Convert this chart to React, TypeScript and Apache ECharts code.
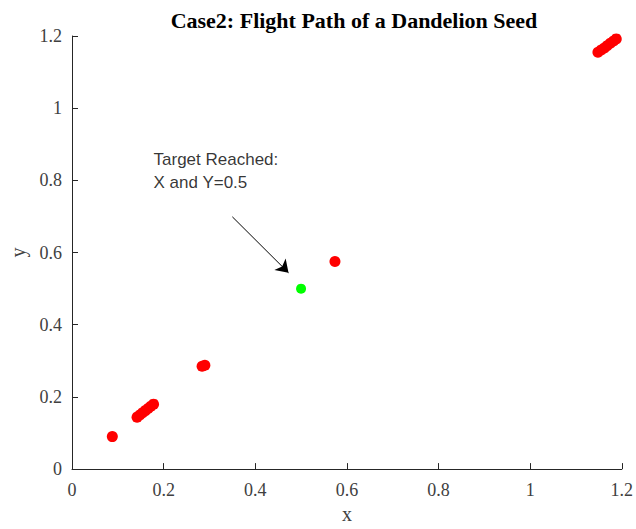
import React, { useEffect, useRef } from "react";
import * as echarts from "echarts";

const pathX = [0.088, 0.142, 0.148, 0.154, 0.16, 0.166, 0.172, 0.178, 0.284, 0.29, 0.574, 1.148, 1.155, 1.162, 1.168, 1.175, 1.182, 1.188];
const pathY = [0.09, 0.144, 0.15, 0.156, 0.162, 0.168, 0.174, 0.18, 0.285, 0.288, 0.575, 1.155, 1.161, 1.167, 1.173, 1.18, 1.186, 1.192];
const targetX = [0.5];
const targetY = [0.5];
const arrowStart = [0.35, 0.699];
const arrowEnd = [0.4726, 0.544];
const noteAt = [0.178, 0.827];
const noteText = "Target Reached:\nX and Y=0.5";
const xTicks = [0, 0.2, 0.4, 0.6, 0.8, 1, 1.2];
const yTicks = [0, 0.2, 0.4, 0.6, 0.8, 1, 1.2];

export default function App() {
  const ref = useRef<HTMLDivElement>(null);
  useEffect(() => {
    if (!ref.current) return;
    const chart = echarts.init(ref.current, undefined, { renderer: "svg" });
    const serif = "Liberation Serif";
    const labelColor = "#404040";
    const axisCommon = (ticks: number[]) => ({
      type: "value" as const,
      min: ticks[0],
      max: ticks[ticks.length - 1],
      interval: ticks[1] - ticks[0],
      splitLine: { show: false },
      axisLine: { show: true, onZero: false, lineStyle: { color: "#262626", width: 1 } },
      axisTick: { show: true, inside: true, length: 6, lineStyle: { color: "#262626" } },
      axisLabel: {
        color: labelColor,
        fontFamily: serif,
        fontSize: 18,
        formatter: (v: number) => String(parseFloat(v.toFixed(2))),
      },
      nameTextStyle: { color: labelColor, fontFamily: serif, fontSize: 20 },
      nameLocation: "middle" as const,
    });
    chart.setOption({
      animation: false,
      backgroundColor: "#ffffff",
      title: {
        text: "Case2: Flight Path of a Dandelion Seed",
        left: 349,
        textAlign: "center",
        top: 4,
        textStyle: { fontFamily: serif, fontWeight: "bold", fontSize: 22, color: "#000" },
      },
      grid: { left: 70, right: 9, top: 36, bottom: 54, containLabel: false },
      xAxis: {
        ...axisCommon(xTicks),
        name: "x",
        nameGap: 34,
        axisLabel: { ...axisCommon(xTicks).axisLabel, margin: 12 },
      },
      yAxis: {
        ...axisCommon(yTicks),
        name: "y",
        nameGap: 44,
        axisLabel: { ...axisCommon(yTicks).axisLabel, margin: 10 },
      },
      series: [
        {
          type: "scatter",
          symbolSize: 11,
          itemStyle: { color: "#ff0000", opacity: 1 },
          data: pathX.map((x, i) => [x, pathY[i]]),
          markLine: {
            silent: true,
            symbol: ["none", "arrow"],
            symbolSize: 12,
            label: { show: false },
            lineStyle: { color: "#000", width: 1, type: "solid" },
            data: [[{ coord: arrowStart }, { coord: arrowEnd }]],
          },
        },
        {
          type: "scatter",
          symbolSize: 10,
          itemStyle: { color: "#00ff00", opacity: 1 },
          data: targetX.map((x, i) => [x, targetY[i]]),
        },
        {
          type: "scatter",
          symbolSize: 0,
          silent: true,
          data: [noteAt],
          label: {
            show: true,
            position: [0, 0],
            align: "left",
            verticalAlign: "middle",
            formatter: noteText,
            fontFamily: "Liberation Sans",
            fontSize: 17,
            lineHeight: 23,
            color: "#000",
          },
        },
      ],
    });
    return () => chart.dispose();
  }, []);
  return <div ref={ref} style={{ width: 636, height: 529, position: "absolute", left: 0, top: 0 }} />;
}
